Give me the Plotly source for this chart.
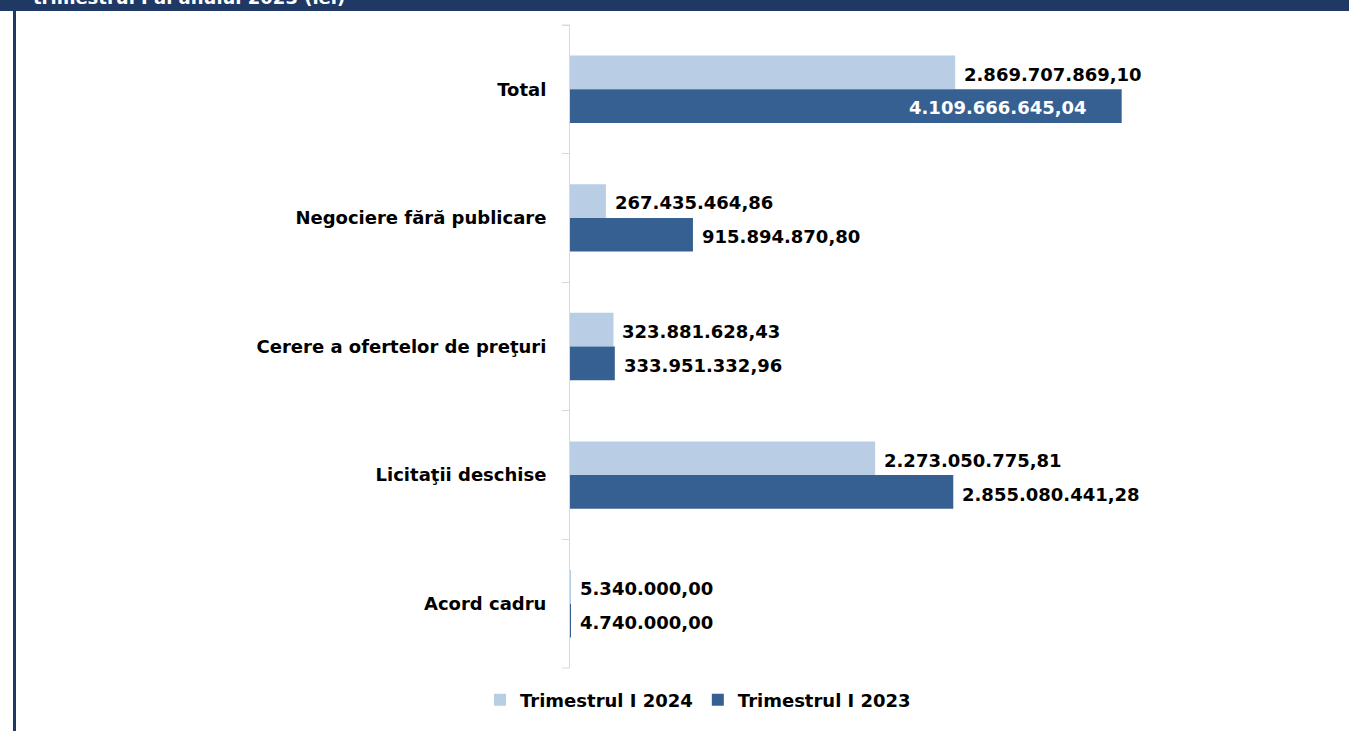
import plotly.graph_objects as go

categories = ["Total", "Negociere fără publicare", "Cerere a ofertelor de preţuri",
              "Licitaţii deschise", "Acord cadru"]
series_names = ["Trimestrul I 2024", "Trimestrul I 2023"]
values_2024 = [2869707869.10, 267435464.86, 323881628.43, 2273050775.81, 5340000.00]
values_2023 = [4109666645.04, 915894870.80, 333951332.96, 2855080441.28, 4740000.00]
inside_label = [[False] * 5, [True, False, False, False, False]]
banner_text = "trimestrul I al anului 2023 (lei)"

FONT = "DejaVu Sans"
LIGHT = "#b9cde5"
DARK = "#376092"
NAVY = "#203864"
AXIS = "#d9d9d9"

L, R, T, B = 570, 40, 25, 63
W, H = 1349 - L - R, 731 - T - B


def ro(v):
    s = f"{v:,.2f}"
    return s.replace(",", "X").replace(".", ",").replace("X", ".")


def px_x(p):
    return (p - L) / W


def px_y(p):
    return 1 - (p - T) / H


fig = go.Figure()
for name, vals, col in [(series_names[0], values_2024, LIGHT), (series_names[1], values_2023, DARK)]:
    fig.add_trace(go.Bar(
        y=categories, x=vals, name=name, orientation="h",
        marker=dict(color=col, line=dict(width=0)),
        hoverinfo="x+y",
    ))

annotations = []
for si, (vals, shift_out, shift_in) in enumerate([(values_2024, 15, 17), (values_2023, -19, -18)]):
    for ci, (cat, v) in enumerate(zip(categories, vals)):
        if inside_label[si][ci]:
            annotations.append(dict(x=v, y=cat, xref="x", yref="y", text=ro(v), showarrow=False,
                                    xanchor="right", yanchor="middle", xshift=-33, yshift=shift_in,
                                    font=dict(family=FONT, size=18, color="white", weight="bold")))
        else:
            annotations.append(dict(x=v, y=cat, xref="x", yref="y", text=ro(v), showarrow=False,
                                    xanchor="left", yanchor="middle", xshift=7, yshift=shift_out,
                                    font=dict(family=FONT, size=18, color="black", weight="bold")))

annotations.append(dict(x=px_x(31), y=1, xref="paper", yref="paper", text=banner_text,
                        showarrow=False, xanchor="left", yanchor="bottom", yshift=15,
                        font=dict(family=FONT, size=18, color="white", weight="bold")))

shapes = [
    dict(type="rect", xref="paper", yref="paper", x0=px_x(0), x1=px_x(1349),
         y0=px_y(11), y1=px_y(0), fillcolor=NAVY, line=dict(width=0), layer="above"),
    dict(type="rect", xref="paper", yref="paper", x0=px_x(13), x1=px_x(16),
         y0=px_y(731), y1=px_y(0), fillcolor=NAVY, line=dict(width=0), layer="above"),
    dict(type="line", xref="paper", yref="paper", x0=px_x(562), x1=px_x(570),
         y0=1, y1=1, line=dict(color=AXIS, width=1)),
    dict(type="line", xref="paper", yref="paper", x0=px_x(562), x1=px_x(570),
         y0=0, y1=0, line=dict(color=AXIS, width=1)),
]

fig.update_layout(
    width=1349, height=731,
    margin=dict(l=L, r=R, t=T, b=B),
    paper_bgcolor="white", plot_bgcolor="white",
    barmode="group", bargap=0.476, bargroupgap=0,
    font=dict(family=FONT, size=18, color="black"),
    showlegend=True,
    legend=dict(orientation="h", x=px_x(698), xanchor="center", y=px_y(700), yanchor="middle",
                font=dict(family=FONT, size=18, color="black", weight="bold"),
                itemwidth=30, traceorder="normal"),
    xaxis=dict(range=[0, 5.505e9], visible=False, showgrid=False, zeroline=False),
    yaxis=dict(autorange="reversed", tickson="boundaries", ticks="outside", ticklen=7,
               tickcolor=AXIS, showline=True, linecolor=AXIS, linewidth=1,
               showgrid=False, zeroline=False, ticklabelstandoff=19,
               tickfont=dict(family=FONT, size=18, color="black", weight="bold")),
    annotations=annotations,
    shapes=shapes,
)

fig.write_html("out.html", config={"displayModeBar": False},
               post_script="document.body.style.margin='0';")
